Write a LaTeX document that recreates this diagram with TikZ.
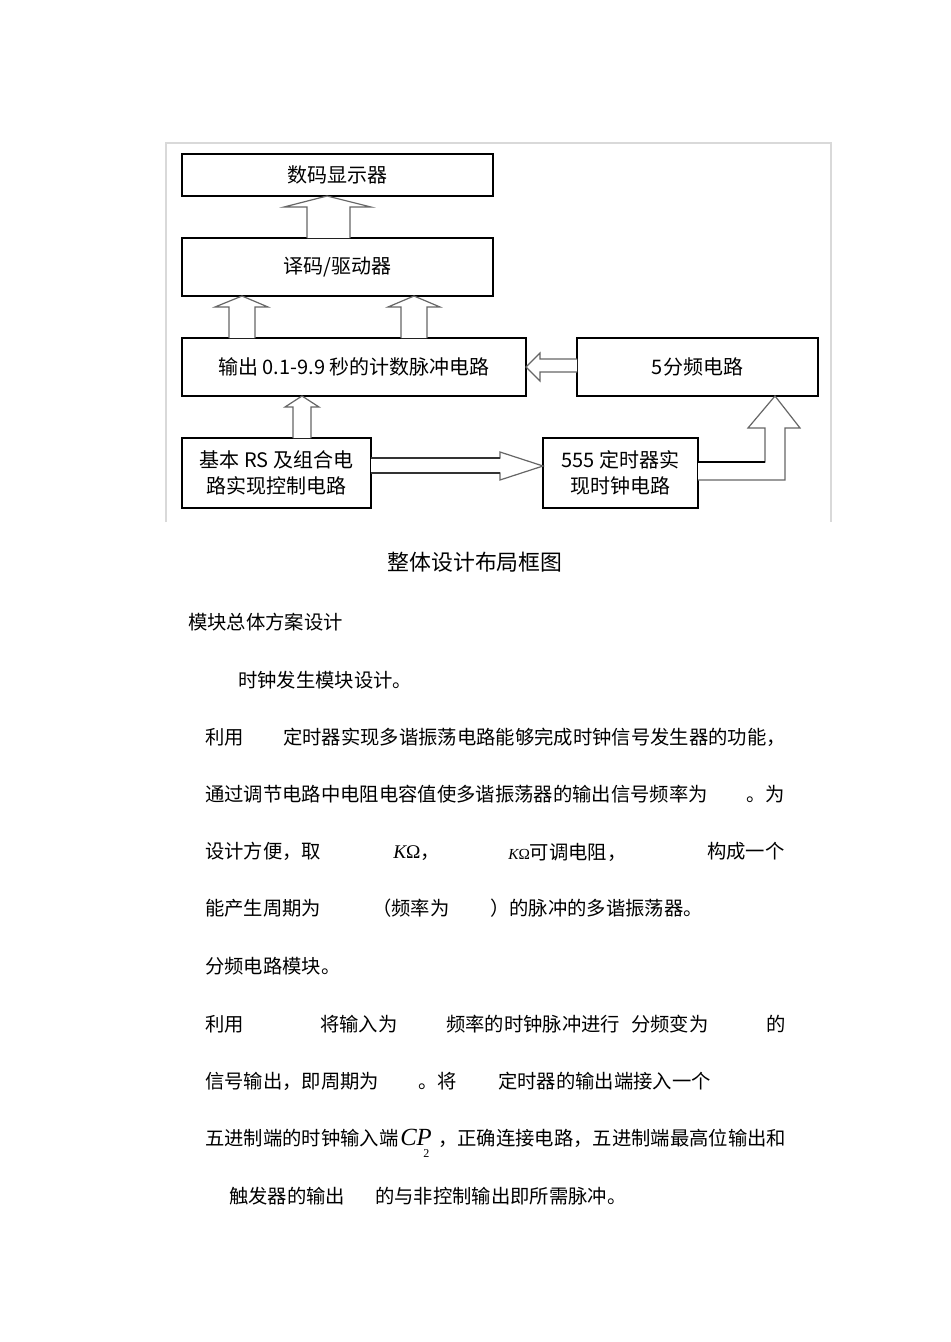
\documentclass[tikz,border=0pt]{standalone}
\usepackage{fontspec}
\newfontfamily\cjk{Noto Sans CJK SC}
\newfontfamily\tnr{Liberation Serif}
\begin{document}
\begin{tikzpicture}[x=0.75pt,y=-0.75pt,
  box/.style={draw=black, line width=1pt, inner sep=0pt, align=center,
    font=\cjk\fontsize{15pt}{19.5pt}\selectfont},
  harrow/.style={draw=black!60, line width=0.9pt, fill=white, line join=miter},
  body/.style={anchor=base west, inner sep=0pt, font=\cjk\fontsize{14.5pt}{14.5pt}\selectfont},
]
\useasboundingbox (0,0) rectangle (950,1342);
\fill[white] (0,0) rectangle (950,1342);
% frame of the figure
\draw[black!15, line width=0.8pt] (166,522) -- (166,143) -- (831,143) -- (831,522);

% blocks
\node[box, minimum width=233.25pt, minimum height=31.5pt] (b1) at (337.5,175) {数码显示器};
\node[box, minimum width=233.25pt, minimum height=43.5pt] (b2) at (337.5,267) {译码/驱动器};
\node[box, minimum width=258pt, minimum height=43.5pt] (b3) at (354,367) {输出 0.1-9.9 秒的计数脉冲电路};
\node[box, minimum width=180.75pt, minimum height=43.5pt] (b4) at (697.5,367) {5分频电路};
\node[box, minimum width=141.75pt, minimum height=52.5pt] (b5) at (276.5,473) {基本 RS 及组合电\\路实现控制电路};
\node[box, minimum width=116.25pt, minimum height=52.5pt] (b6) at (620.5,473) {555 定时器实\\现时钟电路};

% hollow block arrows
\draw[harrow] (307,238) -- (307,207) -- (284,207) -- (327,196) -- (371,207) -- (350,207) -- (350,238);
\draw[harrow] (229,338) -- (229,307) -- (215,307) -- (242,296) -- (268,307) -- (255,307) -- (255,338);
\draw[harrow] (401,338) -- (401,307) -- (388,307) -- (414,296) -- (440,307) -- (427,307) -- (427,338);
\draw[harrow] (577,359) -- (540,359) -- (540,353) -- (526,367) -- (540,381) -- (540,372) -- (577,372);
\draw[harrow] (293,438) -- (293,407) -- (285,407) -- (302,396) -- (319,407) -- (311,407) -- (311,438);
\draw[harrow] (371,458) -- (500,458) -- (500,452) -- (543,466) -- (500,480) -- (500,473) -- (371,473);
\draw[black!80, line width=1.4pt] (371,458) -- (500,458) (371,473) -- (500,473);
\draw[harrow] (698,462) -- (765,462) -- (765,428) -- (748,428) -- (775,396) -- (800,428) -- (785,428) -- (785,480) -- (698,480);
\draw[black, line width=2pt] (698,462) -- (765,462);

% caption
\node[anchor=base, inner sep=0pt, font=\cjk\fontsize{16.4pt}{16.4pt}\selectfont] (cap) at (475,570) {整体设计布局框图};

% body text
\node[body] (t1) at (188,629) {模块总体方案设计};
\node[body] (t2) at (238,687) {时钟发生模块设计。};
\node[body] (t3a) at (205,744) {利用};
\node[body] (t3b) at (283,744) {定时器实现多谐振荡电路能够完成时钟信号发生器的功能，};
\node[body] (t4a) at (205,801) {通过调节电路中电阻电容值使多谐振荡器的输出信号频率为};
\node[body] (t4b) at (746,801) {。为};
\node[body] (t5a) at (205,858) {设计方便，取};
\node[body] (t5b) at (393,858) {{\tnr\fontsize{14.5pt}{14.5pt}\selectfont\itshape K\upshape Ω}，};
\node[body] (t5c) at (508,859) {{\tnr\fontsize{11.5pt}{11.5pt}\selectfont\itshape K\upshape Ω}可调电阻，};
\node[body] (t5d) at (707,858) {构成一个};
\node[body] (t6a) at (205,915) {能产生周期为};
\node[body] (t6b) at (372,915) {（频率为};
\node[body] (t6c) at (490,915) {）的脉冲的多谐振荡器。};
\node[body] (t7) at (205,973) {分频电路模块。};
\node[body] (t8a) at (205,1031) {利用};
\node[body] (t8b) at (320,1031) {将输入为};
\node[body] (t8c) at (446,1031) {频率的时钟脉冲进行};
\node[body] (t8d) at (631,1031) {分频变为};
\node[body] (t8e) at (766,1031) {的};
\node[body] (t9a) at (205,1088) {信号输出，即周期为};
\node[body] (t9b) at (418,1088) {。将};
\node[body] (t9c) at (498,1088) {定时器的输出端接入一个};
\node[body] (t10a) at (205,1145) {五进制端的时钟输入端};
\node[body, font=\tnr\fontsize{18.5pt}{18.5pt}\selectfont\itshape] (t10b) at (400,1145) {CP};
\node[body, font=\tnr\fontsize{9pt}{9pt}\selectfont] (t10c) at (423,1157) {2};
\node[body] (t10d) at (438,1145) {，正确连接电路，五进制端最高位输出和};
\node[body] (t11a) at (229,1203) {触发器的输出};
\node[body] (t11b) at (375,1203) {的与非控制输出即所需脉冲。};
\end{tikzpicture}
\end{document}
